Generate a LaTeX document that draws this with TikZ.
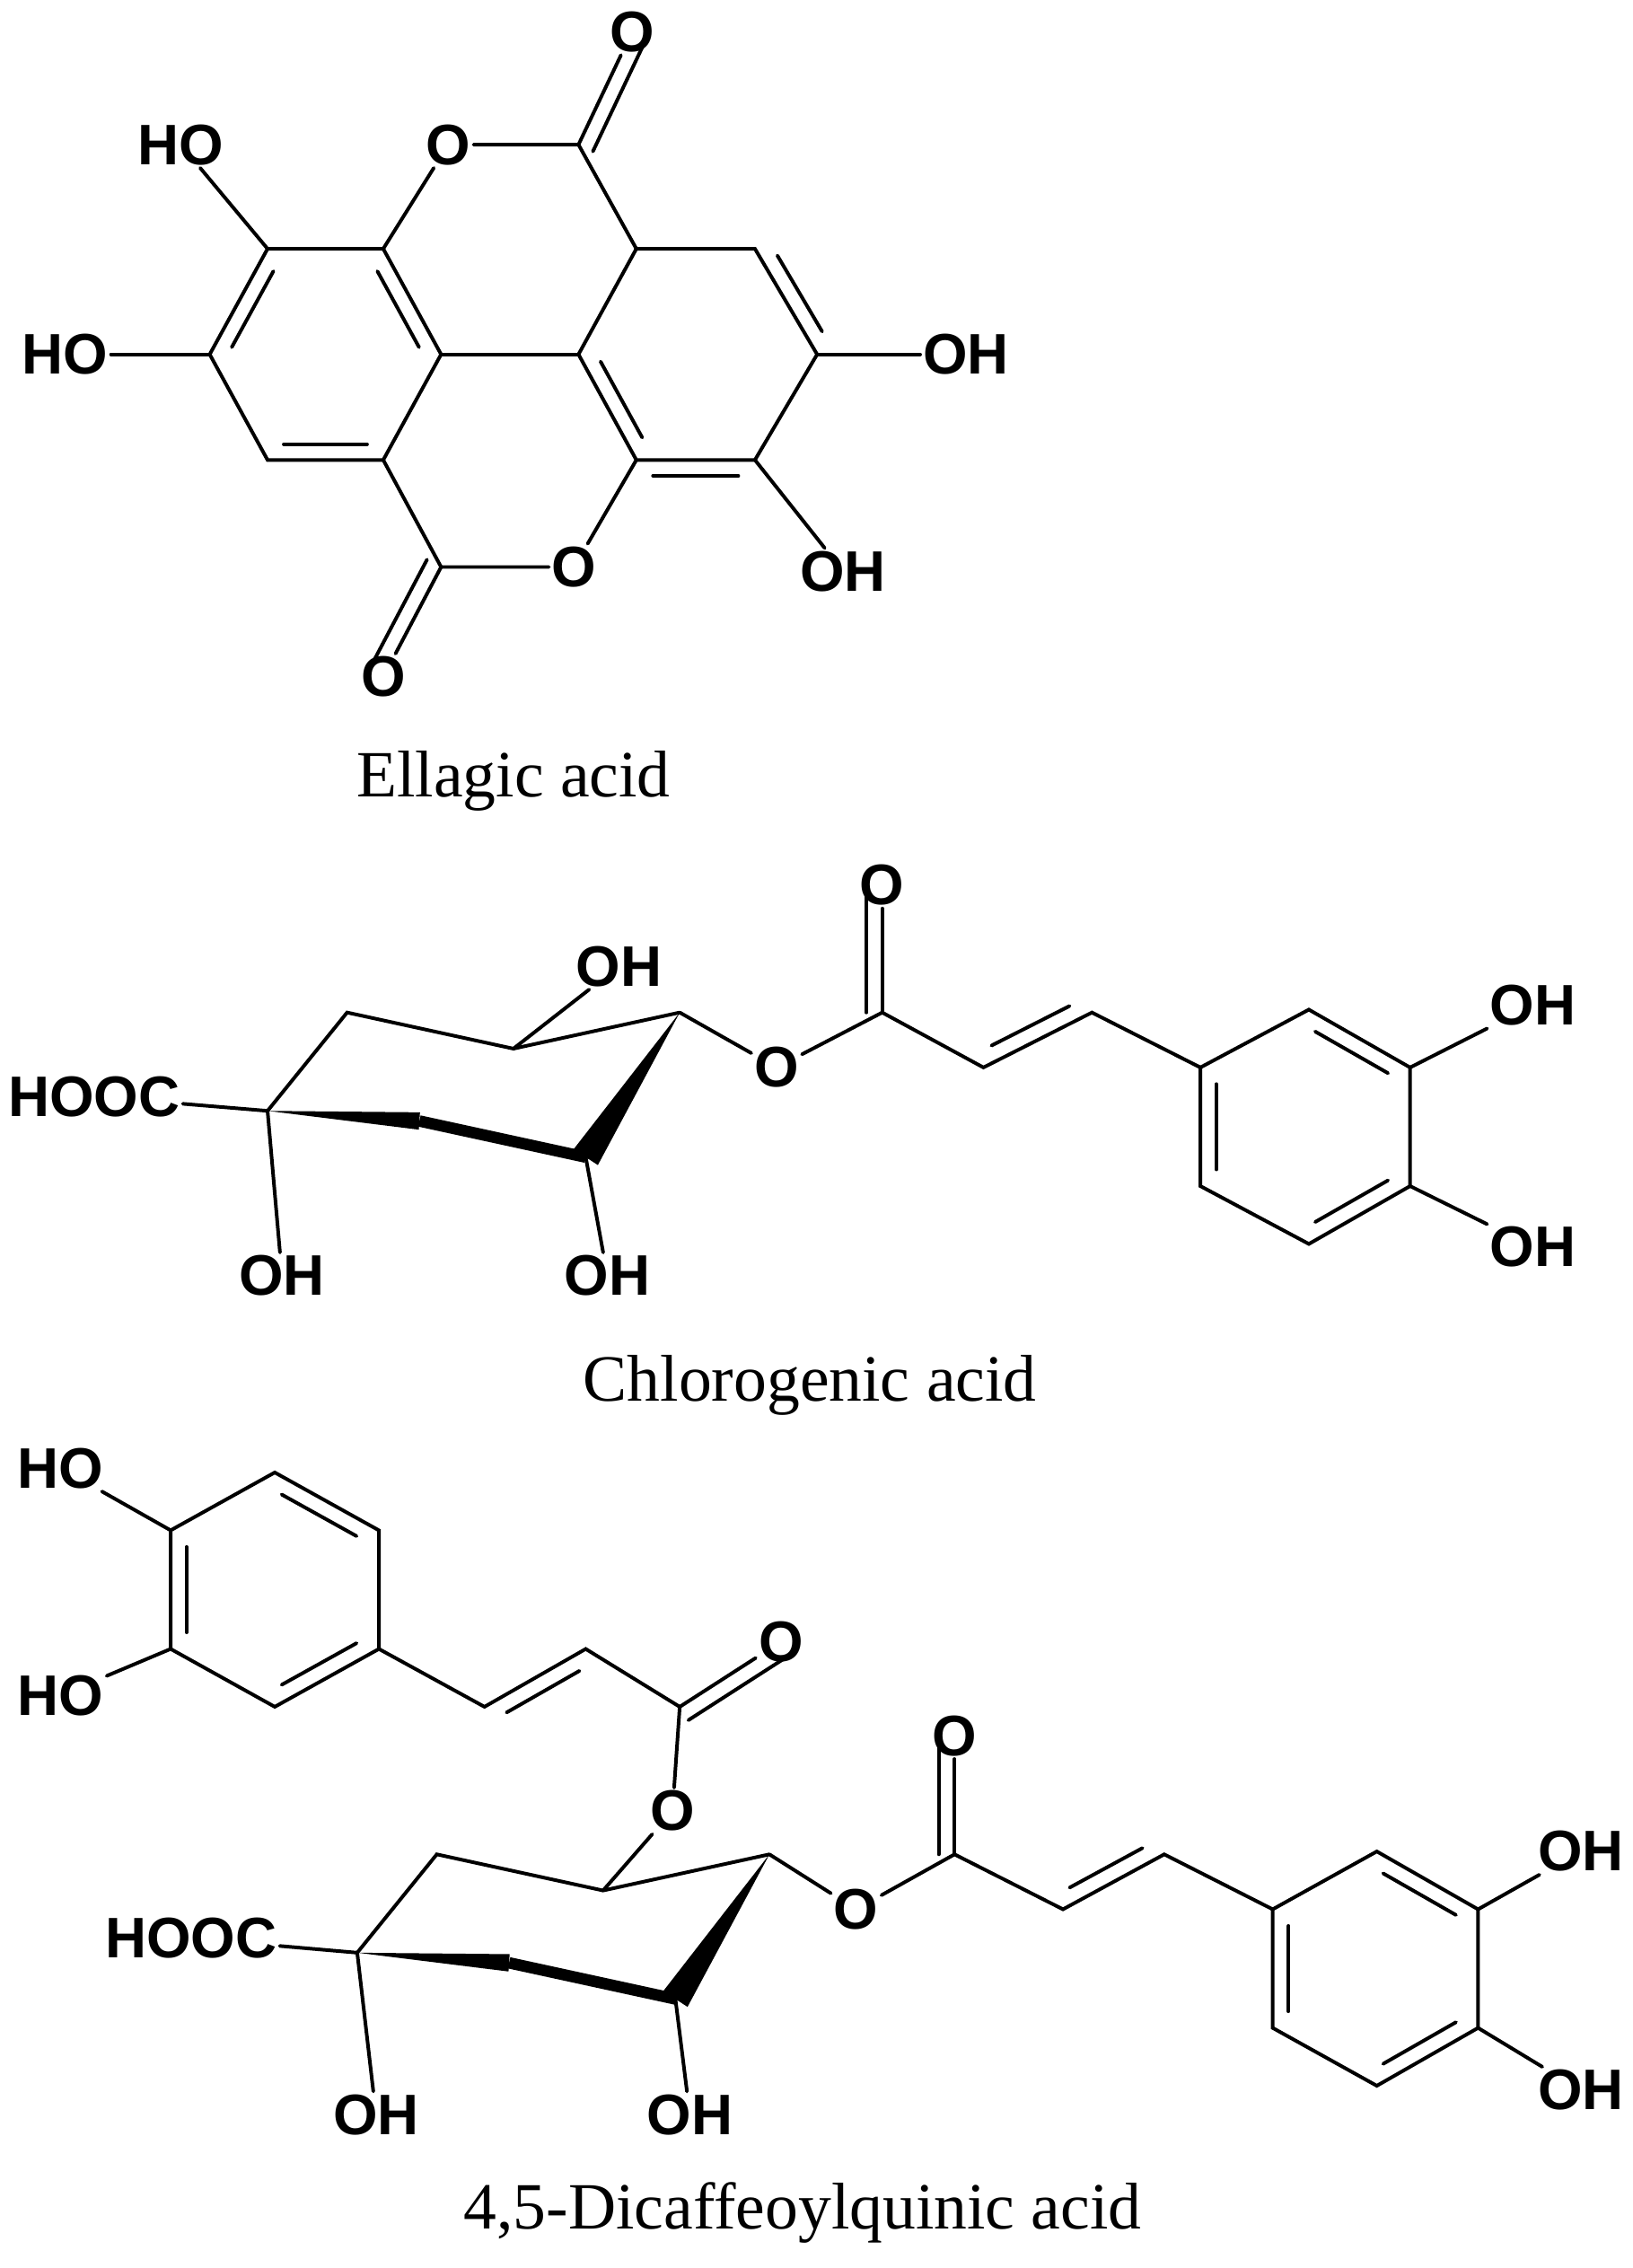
\documentclass[tikz,border=0pt]{standalone}
\usepackage{fontspec}
\setmainfont{Liberation Serif}
\setsansfont{Liberation Sans}
\usetikzlibrary{calc}
\tikzset{
 atom/.style={font=\sffamily\bfseries\fontsize{22.5}{22.5}\selectfont,inner sep=1pt},
 capt/.style={font=\fontsize{26}{26}\selectfont},
 bond/.style={line width=1.4pt,line cap=round},
}
\newcommand{\dbl}[3]{\draw[bond] ($(#1)!0.14!(#2)!0.22cm!#3:(#2)$) -- ($(#2)!0.14!(#1)!0.22cm!-#3:(#1)$);}
\begin{document}
\begin{tikzpicture}[x=0.02cm,y=-0.02cm]
\useasboundingbox (0,0) rectangle (1129,1568);
% ---------- Ellagic acid
\coordinate (a1) at (185,172);\coordinate (a2) at (265,172);\coordinate (a3) at (305,245);
\coordinate (a4) at (265,318);\coordinate (a5) at (185,318);\coordinate (a6) at (145,245);
\coordinate (b1) at (440,172);\coordinate (b2) at (522,172);\coordinate (b3) at (565,245);
\coordinate (b4) at (522,318);\coordinate (b5) at (440,318);\coordinate (b6) at (400,245);
\coordinate (ct) at (400,100);\coordinate (cb) at (305,392);
\node[atom] (Ot) at (310,100) {O};
\node[atom] (Ob) at (397,392) {O};
\node[atom] (Oct) at (437,22) {O};
\node[atom] (Ocb) at (265,468) {O};
\node[atom] (h1) at (125,100) {HO};
\node[atom] (h2) at (45,245) {HO};
\node[atom] (h3) at (668,245) {OH};
\node[atom] (h4) at (583,395) {OH};
\draw[bond] (a1)--(a2)--(a3)--(a4)--(a5)--(a6)--cycle;
\draw[bond] (b1)--(b2)--(b3)--(b4)--(b5)--(b6)--cycle;
\draw[bond] (a3)--(b6);
\dbl{a6}{a1}{-90}\dbl{a4}{a5}{-90}\dbl{a2}{a3}{-90}
\dbl{b2}{b3}{90}\dbl{b5}{b6}{-90}\dbl{b4}{b5}{90}
\draw[bond] (a2)--(Ot)--(ct)--(b1);
\draw[bond] (a4)--(cb)--(Ob)--(b5);
\draw[bond] (ct)--(Oct);
\draw[bond] ($(ct)!0.22cm!-90:(Oct)$)--($(Oct)!0.22cm!90:(ct)$);
\draw[bond] (cb)--(Ocb);
\draw[bond] ($(cb)!0.22cm!-90:(Ocb)$)--($(Ocb)!0.22cm!90:(cb)$);
\draw[bond] (a1)--(h1);\draw[bond] (a6)--(h2);\draw[bond] (b3)--(h3);\draw[bond] (b4)--(h4);
\node[capt] (cap1) at (355,540) {Ellagic acid};
% ---------- Chlorogenic acid
\coordinate (q1) at (185,768);\coordinate (q2) at (240,700);\coordinate (q3) at (355,725);
\coordinate (q4) at (470,700);\coordinate (q5) at (405,800);\coordinate (q6) at (290,775);
\node[atom] (qA) at (65,758) {HOOC};
\node[atom] (qB) at (195,882) {OH};
\node[atom] (qC) at (428,668) {OH};
\node[atom] (qD) at (420,882) {OH};
\node[atom] (qO) at (537,738) {O};
\coordinate (qc) at (610,700);\node[atom] (qOc) at (610,612) {O};
\coordinate (qe1) at (680,738);\coordinate (qe2) at (755,700);
\coordinate (r1) at (830,738);\coordinate (r2) at (905,698);\coordinate (r3) at (975,738);
\coordinate (r4) at (975,820);\coordinate (r5) at (905,860);\coordinate (r6) at (830,820);
\node[atom] (rA) at (1060,695) {OH};
\node[atom] (rB) at (1060,862) {OH};
\draw[bond] (q1)--(q2)--(q3)--(q4);
\fill (q1) -- ($(q6)!0.12cm!90:(q1)$) -- ($(q6)!0.12cm!-90:(q1)$) -- cycle;
\draw[line width=4.5pt] (q6)--(q5);
\fill (q4) -- ($(q5)!0.2cm!90:(q4)$) -- ($(q5)!0.2cm!-90:(q4)$) -- cycle;
\draw[bond] (q1)--(qA);\draw[bond] (q1)--(qB);\draw[bond] (q3)--(qC);\draw[bond] (q5)--(qD);
\draw[bond] (q4)--(qO)--(qc)--(qe1)--(qe2)--(r1);
\dbl{qe1}{qe2}{90}
\draw[bond] (qc)--(qOc);
\draw[bond] ($(qc)!0.22cm!90:(qOc)$)--($(qOc)!0.22cm!-90:(qc)$);
\draw[bond] (r1)--(r2)--(r3)--(r4)--(r5)--(r6)--cycle;
\dbl{r2}{r3}{-90}\dbl{r4}{r5}{-90}\dbl{r6}{r1}{-90}
\draw[bond] (r3)--(rA);\draw[bond] (r4)--(rB);
\node[capt] (cap2) at (560,958) {Chlorogenic acid};
% ---------- 4,5-Dicaffeoylquinic acid
\coordinate (t1) at (190,1018);\coordinate (t2) at (262,1058);\coordinate (t3) at (262,1140);
\coordinate (t4) at (190,1180);\coordinate (t5) at (118,1140);\coordinate (t6) at (118,1058);
\node[atom] (tA) at (42,1015) {HO};
\node[atom] (tB) at (42,1172) {HO};
\coordinate (te1) at (335,1180);\coordinate (te2) at (405,1140);\coordinate (tc) at (470,1180);
\node[atom] (tOc) at (540,1135) {O};
\node[atom] (tO) at (465,1252) {O};
\draw[bond] (t1)--(t2)--(t3)--(t4)--(t5)--(t6)--cycle;
\dbl{t1}{t2}{-90}\dbl{t3}{t4}{-90}\dbl{t5}{t6}{-90}
\draw[bond] (t6)--(tA);\draw[bond] (t5)--(tB);
\draw[bond] (t3)--(te1)--(te2)--(tc)--(tO);
\dbl{te1}{te2}{-90}
\draw[bond] (tc)--(tOc);
\draw[bond] ($(tc)!0.22cm!-90:(tOc)$)--($(tOc)!0.22cm!90:(tc)$);
\coordinate (s1) at (247,1350);\coordinate (s2) at (302,1282);\coordinate (s3) at (417,1307);
\coordinate (s4) at (532,1282);\coordinate (s5) at (467,1382);\coordinate (s6) at (352,1357);
\node[atom] (sA) at (132,1340) {HOOC};
\node[atom] (sB) at (260,1462) {OH};
\node[atom] (sD) at (477,1462) {OH};
\node[atom] (sO) at (592,1320) {O};
\coordinate (sc) at (660,1282);\node[atom] (sOc) at (660,1200) {O};
\coordinate (se1) at (735,1320);\coordinate (se2) at (805,1282);
\coordinate (u1) at (880,1320);\coordinate (u2) at (952,1280);\coordinate (u3) at (1022,1320);
\coordinate (u4) at (1022,1402);\coordinate (u5) at (952,1442);\coordinate (u6) at (880,1402);
\node[atom] (uA) at (1093,1280) {OH};
\node[atom] (uB) at (1093,1445) {OH};
\draw[bond] (s1)--(s2)--(s3)--(s4);
\fill (s1) -- ($(s6)!0.12cm!90:(s1)$) -- ($(s6)!0.12cm!-90:(s1)$) -- cycle;
\draw[line width=4.5pt] (s6)--(s5);
\fill (s4) -- ($(s5)!0.2cm!90:(s4)$) -- ($(s5)!0.2cm!-90:(s4)$) -- cycle;
\draw[bond] (s1)--(sA);\draw[bond] (s1)--(sB);\draw[bond] (s3)--(tO);\draw[bond] (s5)--(sD);
\draw[bond] (s4)--(sO)--(sc)--(se1)--(se2)--(u1);
\dbl{se1}{se2}{90}
\draw[bond] (sc)--(sOc);
\draw[bond] ($(sc)!0.22cm!90:(sOc)$)--($(sOc)!0.22cm!-90:(sc)$);
\draw[bond] (u1)--(u2)--(u3)--(u4)--(u5)--(u6)--cycle;
\dbl{u2}{u3}{-90}\dbl{u4}{u5}{-90}\dbl{u6}{u1}{-90}
\draw[bond] (u3)--(uA);\draw[bond] (u4)--(uB);
\node[capt] (cap3) at (555,1530) {4,5-Dicaffeoylquinic acid};
\end{tikzpicture}
\end{document}
